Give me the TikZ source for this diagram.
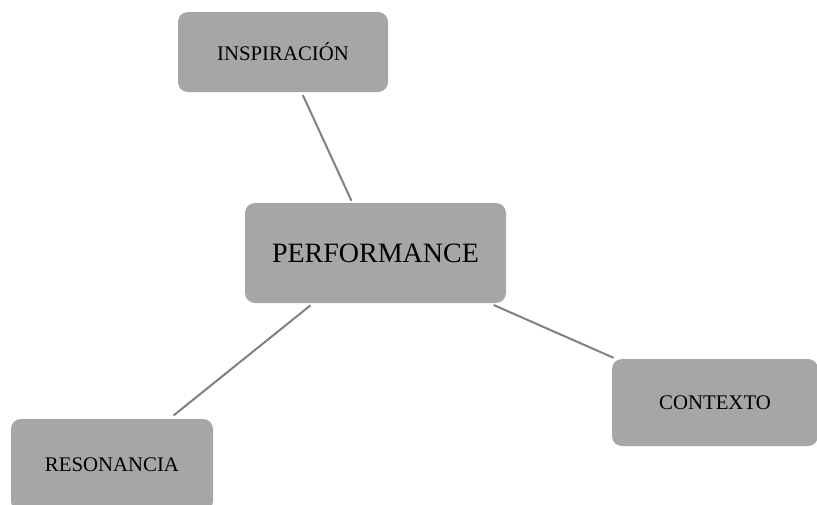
\documentclass[tikz,border=0pt]{standalone}
\usepackage{fontspec}
\setmainfont{Liberation Serif}
\definecolor{mapFill}{HTML}{A6A6A6}
\definecolor{mapLine}{HTML}{808080}
\usepackage{tikz}
\usetikzlibrary{positioning, calc}

\begin{document}
\begin{tikzpicture}[x=0.5pt, y=-0.5pt,
  bubble/.style={rounded corners=5pt, fill=mapFill, draw=none, align=center,
    inner sep=0pt, font=\fontsize{10.4}{12}\selectfont},
  link/.style={draw=mapLine, line width=1pt}]

  \useasboundingbox (0,0) rectangle (817,504);

  % nodo central
  \node[bubble, minimum width=130.5pt, minimum height=50pt,
    font=\fontsize{14}{16}\selectfont] (perf) at (375.5,253) {PERFORMANCE};

  \node[bubble, minimum width=105pt, minimum height=40pt] (insp) at (283,52) {INSPIRACIÓN};
  \node[bubble, minimum width=103pt, minimum height=43.5pt] (cont) at (715,402.5) {CONTEXTO};
  \node[bubble, minimum width=101pt, minimum height=46pt] (reso) at (112,465) {RESONANCIA};

  \draw[link, shorten <=1.5pt, shorten >=1pt] (insp) -- (perf);
  \draw[link, shorten <=1.5pt, shorten >=2.5pt] (perf) -- (reso);
  \draw[link, shorten <=2pt, shorten >=1pt] (perf) -- (cont);
\end{tikzpicture}
\end{document}
